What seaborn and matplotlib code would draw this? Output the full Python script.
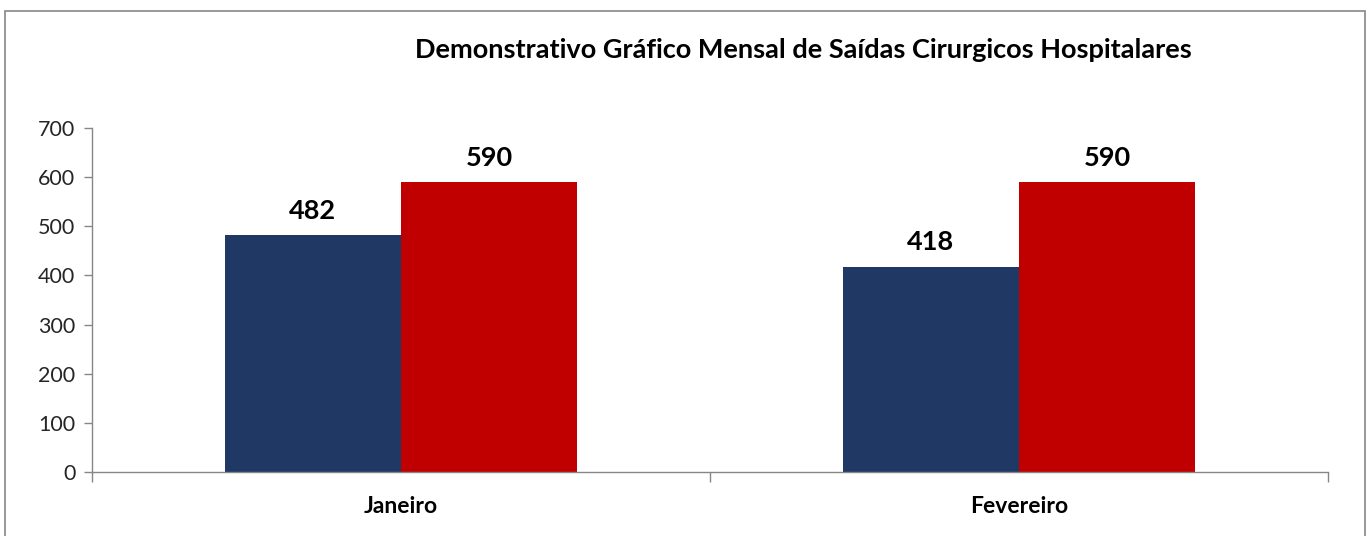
import matplotlib
matplotlib.use("Agg")
import matplotlib.pyplot as plt
import seaborn as sns
import pandas as pd
from matplotlib.patches import Rectangle

months = ["Janeiro", "Fevereiro"]
series_names = ["Série 1", "Série 2"]
values_s1 = [482, 418]
values_s2 = [590, 590]
y_ticks = [0, 100, 200, 300, 400, 500, 600, 700]
title = "Demonstrativo Gráfico Mensal de Saídas Cirurgicos Hospitalares"

df = pd.DataFrame({
    "mes": months * 2,
    "serie": [series_names[0]] * 2 + [series_names[1]] * 2,
    "valor": values_s1 + values_s2,
})

sns.set_theme(style="white")
plt.rcParams["font.family"] = ["Lato", "DejaVu Sans"]

fig = plt.figure(figsize=(13.7, 5.36), dpi=100)
ax = fig.add_axes([92/1370, 1-472/536, (1328-92)/1370, (472-128)/536])

sns.barplot(data=df, x="mes", y="valor", hue="serie", order=months,
            hue_order=series_names, palette=["#203864", "#C00000"],
            width=0.57, gap=0, saturation=1, legend=False, ax=ax,
            linewidth=0, errorbar=None)

ax.set_ylim(0, 700)
ax.set_xlim(-0.5, 1.5)
ax.set_yticks(y_ticks)
ax.set_yticklabels([str(t) for t in y_ticks], fontsize=15.5, color="#262626")
ax.set_xticks([-0.5, 0.5, 1.5], minor=False)
ax.set_xticklabels([])
ax.set_xticks([0, 1], minor=True)
ax.set_xticklabels(months, minor=True, fontsize=16.5, fontweight="bold", color="#000000")
ax.tick_params(axis="x", which="major", bottom=True, length=7, width=1, color="#868686", direction="out")
ax.tick_params(axis="x", which="minor", bottom=True, length=0, pad=17)
ax.tick_params(axis="y", left=True, length=6, width=1, color="#868686", direction="out", pad=6)
ax.set_xlabel("")
ax.set_ylabel("")
for s in ["top", "right"]:
    ax.spines[s].set_visible(False)
for s in ["left", "bottom"]:
    ax.spines[s].set_color("#868686")
    ax.spines[s].set_linewidth(1)

for cont in ax.containers:
    ax.bar_label(cont, fmt="%d", padding=9, fontsize=19.5, fontweight="bold", color="#000000")

fig.text(803/1370, 1-50/536, title, ha="center", va="center", fontsize=19.5,
         fontweight="bold", color="#000000")

fig.patches.append(Rectangle((5/1370, -0.05), (1365-5)/1370, 1-11/536+0.05,
                             transform=fig.transFigure, fill=False,
                             edgecolor="#868686", linewidth=1.2))

fig.savefig("out.png", dpi=100, facecolor="white")
